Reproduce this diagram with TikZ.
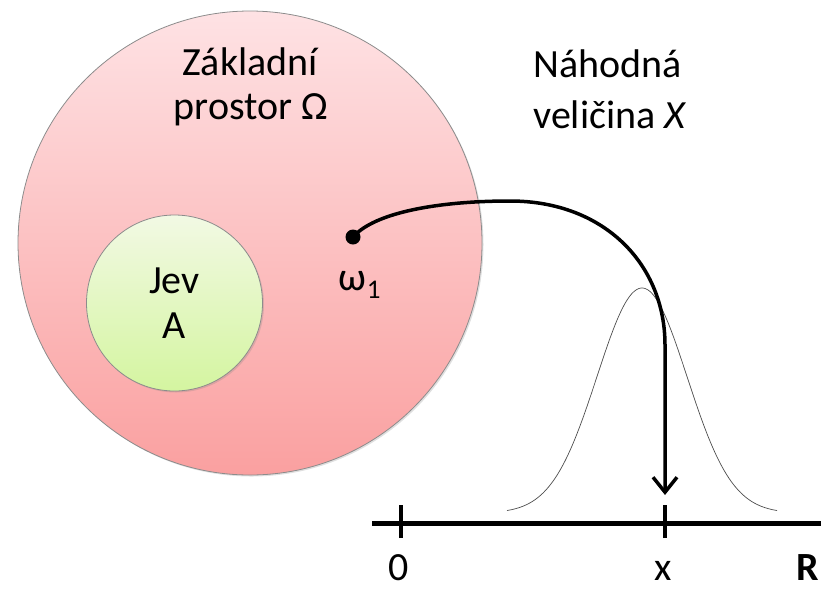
\documentclass[tikz,border=0pt]{standalone}
\usepackage{fontspec}
\setmainfont{Carlito}
\usetikzlibrary{arrows.meta,shadows}
\begin{document}
\begin{tikzpicture}[x=1pt,y=-1pt,
  lbl/.style={font=\fontsize{40}{45}\selectfont, inner sep=0pt},
  setc/.style={circle, draw=black!45, line width=0.8pt},
  conn/.style={line width=3.5pt, line cap=round},
  axisln/.style={line width=5pt},
  tick/.style={line width=4.5pt}]
\useasboundingbox (0,0) rectangle (821,590);
\clip (0,0) rectangle (821,590);
% basic space
\node[setc, minimum size=464pt, top color={rgb,255:red,254;green,226;blue,228}, bottom color={rgb,255:red,250;green,160;blue,160}, drop shadow={opacity=0.25, shadow xshift=1.5pt, shadow yshift=-1.5pt}] (omega) at (250,243) {};
\node[setc, minimum size=176pt, top color={rgb,255:red,242;green,249;blue,228}, bottom color={rgb,255:red,212;green,245;blue,160}, drop shadow={opacity=0.25, shadow xshift=1.5pt, shadow yshift=-1.5pt}] (evA) at (174.5,303) {};
\node[lbl, anchor=base] (t1) at (250,75) {Základní};
\node[lbl, anchor=base] (t2) at (251,119) {prostor Ω};
\node[lbl, anchor=base] (t3) at (608,77) {Náhodná};
\node[lbl, anchor=base] (t4) at (610,128) {veličina \textit{X}};
\node[lbl, anchor=base] (jev) at (174.5,293) {Jev};
\node[lbl, anchor=base] (jA) at (174.5,338) {A};
% omega_1
\node[circle, fill=black, inner sep=0pt, minimum size=15pt] (w1) at (353,237) {};
\node[lbl, anchor=base] (w1l) at (360,290) {ω$_{\fontsize{27}{27}\selectfont\textrm{1}}$};
% axis
\coordinate (aL) at (372,523);
\coordinate (aR) at (830,523);
\draw[axisln] (aL) -- (aR);
\coordinate (z0) at (401,523);
\coordinate (zx) at (665,523);
\draw[tick] ([yshift=-15pt]z0) -- ([yshift=18pt]z0);
\draw[tick] ([yshift=-15pt]zx) -- ([yshift=18pt]zx);
\node[lbl, anchor=base] (l0) at (399,580) {0};
\node[lbl, anchor=base] (lx) at (663,580) {x};
\node[lbl, anchor=base east, font=\fontsize{40}{45}\selectfont\bfseries] (lR) at (819,580) {R};
% density
\draw[black!70, line width=0.7pt, domain=507:777, samples=120, smooth] plot (\x, {513-225*exp(-((\x-642)/45)^2/2)});
% mapping arrow
\coordinate (tip) at (665,495);
\draw[conn, -{Straight Barb[length=15pt, width=24pt, line width=3.5pt]}] (w1.center) .. controls (375,212) and (440,201) .. (510,201) .. controls (605,201) and (665,265) .. (665,345) -- (tip);
\end{tikzpicture}
\end{document}
